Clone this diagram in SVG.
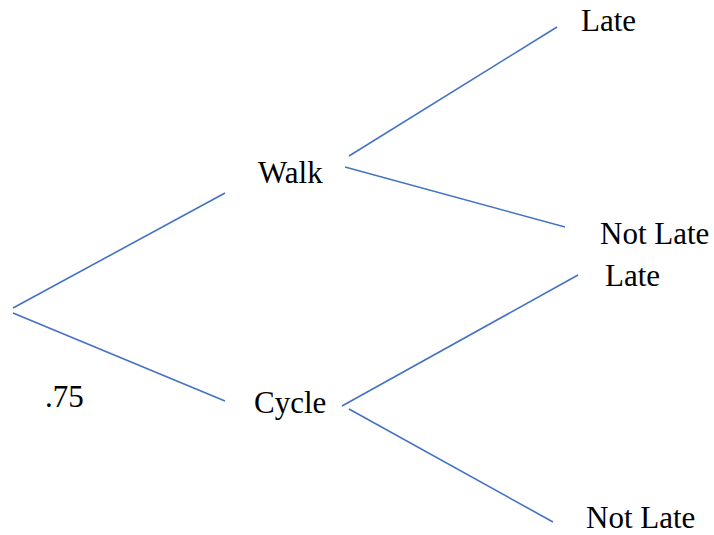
<svg xmlns="http://www.w3.org/2000/svg" width="714" height="535" viewBox="0 0 714 535">
<style>
.c line{stroke:#4472C4;stroke-width:1.6;fill:none}
</style>
<rect width="714" height="535" fill="#fff"/>
<g class="c" id="connectors">
<line x1="13" y1="308" x2="225" y2="193"/>
<line x1="13" y1="313" x2="225" y2="401"/>
<line x1="349" y1="156" x2="557" y2="27"/>
<line x1="345" y1="167" x2="565" y2="227"/>
<line x1="342" y1="406" x2="578" y2="275"/>
<line x1="349" y1="409" x2="553" y2="522"/>
</g>
<g font-family="Liberation Serif, Times New Roman, serif" font-size="31" fill="#000">
<g id="walk"><text x="258" y="183">Walk</text></g>
<g id="cycle"><text x="254" y="413">Cycle</text></g>
<g id="prob"><text x="45" y="407">.75</text></g>
<g id="late1"><text x="581" y="31">Late</text></g>
<g id="notlate1"><text x="600" y="244">Not Late</text></g>
<g id="late2"><text x="605" y="286">Late</text></g>
<g id="notlate2"><text x="586" y="528">Not Late</text></g>
</g>
</svg>
